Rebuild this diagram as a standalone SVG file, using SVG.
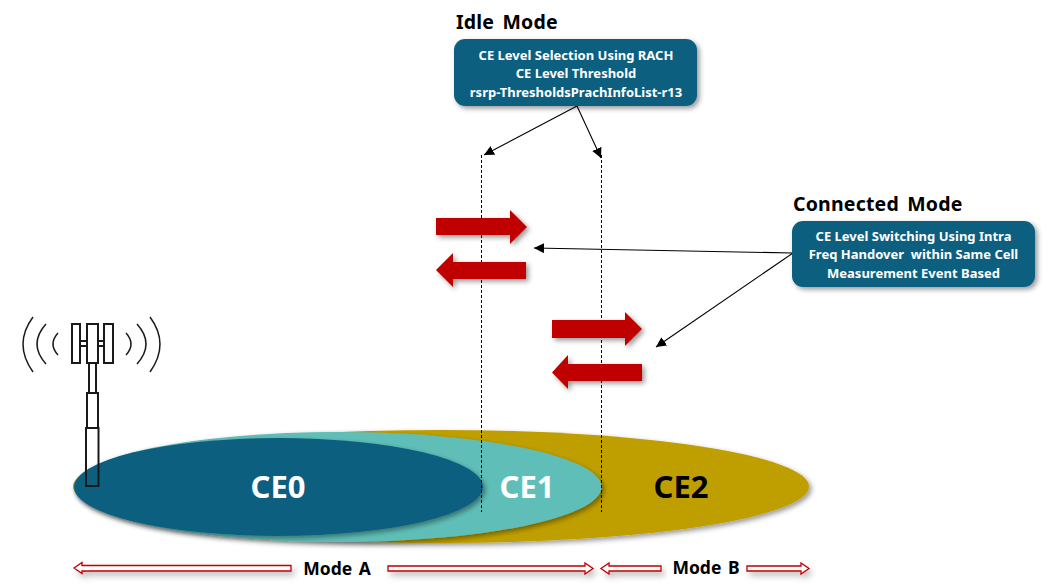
<svg xmlns="http://www.w3.org/2000/svg" width="1053" height="584" viewBox="0 0 1053 584">
<defs>
<filter id="sh" x="-20%" y="-40%" width="140%" height="200%"><feDropShadow dx="2.5" dy="2.5" stdDeviation="2.5" flood-color="#000" flood-opacity="0.4"/></filter>
<filter id="shl" x="-10%" y="-300%" width="120%" height="700%"><feDropShadow dx="3" dy="4" stdDeviation="3" flood-color="#000" flood-opacity="0.25"/></filter>
<marker id="ah" markerUnits="userSpaceOnUse" markerWidth="12" markerHeight="12" refX="10" refY="5" orient="auto"><path d="M0 0L10 5L0 10Z" fill="#000"/></marker>
</defs>
<style>
text{font-family:"Noto Sans","Open Sans","Liberation Sans",sans-serif;white-space:pre}
.h{font-size:19.500px;font-weight:700;fill:#000;word-spacing:3px;letter-spacing:0.200px}
.b{font-size:13px;font-weight:700;fill:#fff;text-anchor:middle}
.box{fill:#115f80;filter:url(#sh)}
.ce{font-size:31px;font-weight:700;text-anchor:middle}
.red{fill:#c00000;filter:url(#sh)}
.mode{fill:#fff;stroke:#c00000;stroke-width:1.3;filter:url(#shl)}
.ml{font-size:17.500px;font-weight:700;fill:#000;text-anchor:middle;word-spacing:2px}
.tw{fill:none;stroke:#1a1a1a;stroke-width:2}
.ar{fill:none;stroke:#1a1a1a;stroke-width:1.500}
.cn{stroke:#000;stroke-width:1.1;fill:none;marker-end:url(#ah)}
.ds{stroke:#000;stroke-width:1;stroke-dasharray:3 2;fill:none}
</style>
<g id="ce2"><ellipse cx="441" cy="486.500" rx="368" ry="56.500" fill="#bf9f00" filter="url(#sh)"/><text class="ce" x="681" y="498" fill="#000">CE2</text></g>
<g id="ce1"><ellipse cx="338" cy="487" rx="263.500" ry="55" fill="#5fbfb8" filter="url(#sh)"/><text class="ce" x="527" y="498" fill="#fff">CE1</text></g>
<g id="ce0"><ellipse cx="278.500" cy="487" rx="204.500" ry="49" fill="#115f80" filter="url(#sh)"/><text class="ce" x="278" y="498" fill="#fff">CE0</text></g>
<g id="tower">
<rect class="tw" x="72" y="324" width="8" height="39"/><rect class="tw" x="87" y="324" width="11" height="39"/><rect class="tw" x="104" y="324" width="9" height="39"/>
<rect class="tw" x="80" y="341" width="7" height="5"/><rect class="tw" x="98" y="341" width="6" height="5"/>
<rect class="tw" x="89" y="363" width="7" height="30"/><rect class="tw" x="87" y="393" width="11" height="35"/><rect class="tw" x="86" y="428" width="12.500" height="58"/>
<path class="ar" d="M33 317Q13 344 33 372M46 324Q28 344 46 364M58 333Q48 344 58 355M150 317Q170 344 150 372M137 324Q155 344 137 364M126 333Q136 344 126 355"/>
</g>
<g id="connectors">
<path class="ds" d="M481.500 155V512M601.500 155V512"/>
<path class="cn" d="M577 106L484 155"/>
<path class="cn" d="M577 106L601 158"/>
<path class="cn" d="M793 253L534 248"/>
<path class="cn" d="M793 253L656 347"/>
</g>
<g id="red-arrows">
<path class="red" d="M436 218H510V210L527 227L510 244V235H436Z"/>
<path class="red" d="M526 262H453V253L436 270L453 287V279H526Z"/>
<path class="red" d="M552 320H625V312L642 329L625 346V338H552Z"/>
<path class="red" d="M642 364H568V355L552 372.500L568 389V381H642Z"/>
</g>
<g id="idle"><text class="h" x="456" y="29">Idle Mode</text>
<rect class="box" x="454" y="39" width="243" height="67" rx="11"/>
<text class="b" x="576" y="60">CE Level Selection Using RACH</text><text class="b" x="576" y="78">CE Level Threshold</text><text class="b" x="576" y="97">rsrp-ThresholdsPrachInfoList-r13</text></g>
<g id="connected"><text class="h" x="793" y="211">Connected Mode</text>
<rect class="box" x="792" y="221" width="243" height="66" rx="11"/>
<text class="b" x="913.500" y="241">CE Level Switching Using Intra</text><text class="b" x="913.500" y="259">Freq Handover  within Same Cell</text><text class="b" x="913.500" y="278">Measurement Event Based</text></g>
<g id="mode-a"><path class="mode" d="M291 565.500H82V562.500L74 568L82 573.500V571H291Z"/><path class="mode" d="M388 566H585V563L593 568.500L585 574V571H388Z"/><text class="ml" x="337" y="575">Mode A</text></g>
<g id="mode-b"><path class="mode" d="M661 566H609V563L601 568.500L609 574V571H661Z"/><path class="mode" d="M747 566H801V563L809 568.500L801 574V571H747Z"/><text class="ml" x="706" y="574">Mode B</text></g>
</svg>
